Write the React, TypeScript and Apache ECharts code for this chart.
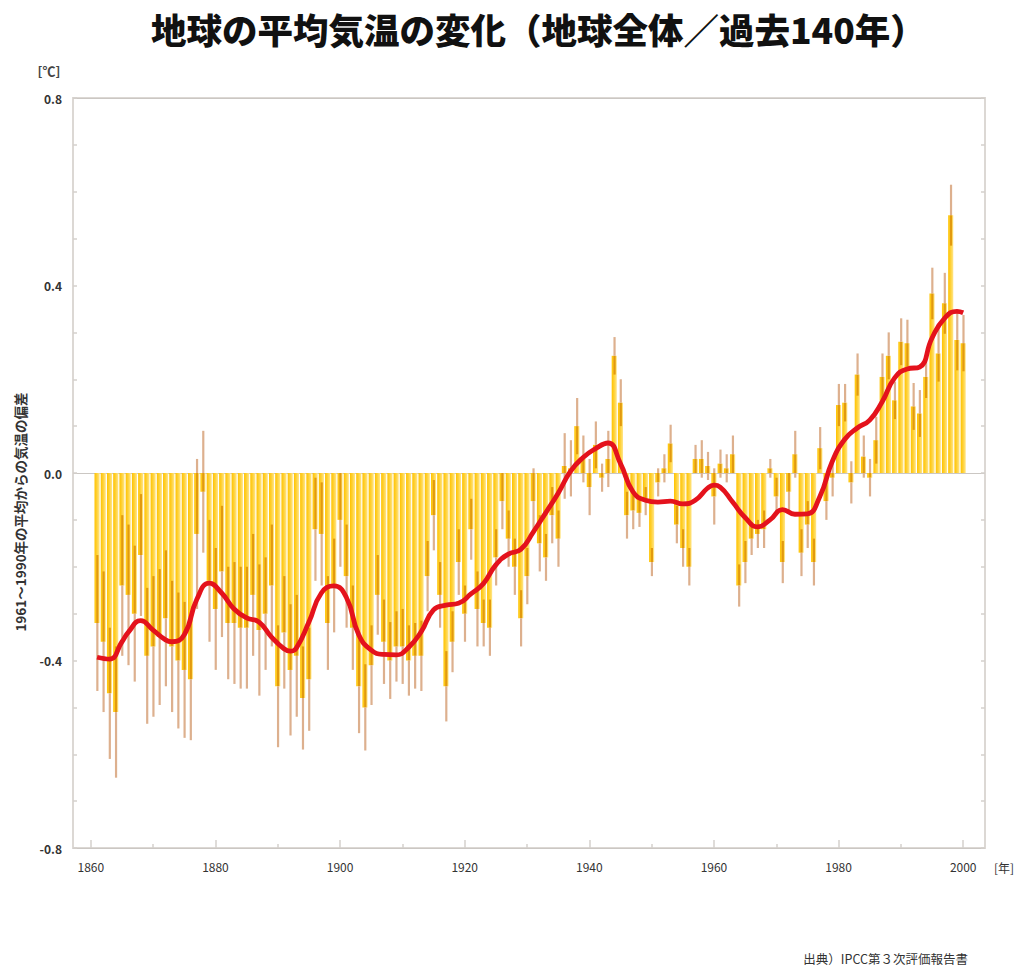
import React, { useEffect, useRef } from 'react';
import * as echarts from 'echarts';

const startYear = 1861;

// annual anomaly (°C, relative to 1961-1990), 1861..2000
const anomaly = [
  -0.32, -0.36, -0.47, -0.51, -0.24, -0.26, -0.30, -0.175, -0.39, -0.37,
  -0.35, -0.31, -0.37, -0.40, -0.42, -0.44, -0.13, -0.04, -0.23, -0.29,
  -0.21, -0.32, -0.32, -0.33, -0.33, -0.26, -0.335, -0.30, -0.24, -0.455,
  -0.34, -0.42, -0.39, -0.48, -0.44, -0.12, -0.13, -0.32, -0.24, -0.10,
  -0.22, -0.33, -0.455, -0.50, -0.41, -0.26, -0.36, -0.40, -0.37, -0.37,
  -0.40, -0.39, -0.39, -0.22, -0.09, -0.26, -0.455, -0.36, -0.19, -0.30,
  -0.12, -0.29, -0.32, -0.33, -0.18, -0.06, -0.14, -0.20, -0.31, -0.22,
  -0.06, -0.15, -0.18, -0.09, -0.14, 0.015, 0.01, 0.10, 0.03, -0.03,
  0.06, -0.01, 0.03, 0.25, 0.15, -0.09, -0.08, -0.085, -0.06, -0.19,
  -0.02, 0.01, 0.063, -0.11, -0.16, -0.20, 0.03, 0.03, 0.015, -0.05,
  0.02, 0.01, 0.04, -0.24, -0.19, -0.14, -0.13, -0.12, 0.01, -0.05,
  -0.19, -0.04, 0.04, -0.17, -0.11, -0.19, 0.053, -0.06, -0.01, 0.145,
  0.15, -0.02, 0.21, 0.035, -0.01, 0.07, 0.205, 0.25, 0.155, 0.28,
  0.277, 0.142, 0.127, 0.205, 0.383, 0.255, 0.362, 0.55, 0.284, 0.277,
];

// ± uncertainty (2 standard errors), 1861..2000
const uncertainty = [
  0.145, 0.15, 0.14, 0.14, 0.15, 0.15, 0.145, 0.13, 0.145, 0.15,
  0.145, 0.145, 0.14, 0.145, 0.145, 0.13, 0.16, 0.13, 0.13, 0.13,
  0.14, 0.12, 0.13, 0.13, 0.13, 0.13, 0.14, 0.12, 0.13, 0.13,
  0.12, 0.14, 0.13, 0.11, 0.11, 0.11, 0.11, 0.10, 0.10, 0.10,
  0.11, 0.09, 0.10, 0.092, 0.085, 0.085, 0.09, 0.082, 0.075, 0.08,
  0.075, 0.07, 0.075, 0.075, 0.075, 0.07, 0.075, 0.065, 0.07, 0.06,
  0.065, 0.08, 0.05, 0.06, 0.06, 0.06, 0.06, 0.06, 0.06, 0.06,
  0.07, 0.06, 0.05, 0.06, 0.06, 0.07, 0.06, 0.06, 0.05, 0.06,
  0.05, 0.03, 0.06, 0.04, 0.05, 0.05, 0.04, 0.03, 0.03, 0.03,
  0.03, 0.03, 0.04, 0.04, 0.04, 0.04, 0.03, 0.04, 0.03, 0.06,
  0.03, 0.03, 0.04, 0.045, 0.045, 0.035, 0.03, 0.04, 0.02, 0.04,
  0.045, 0.04, 0.05, 0.05, 0.05, 0.05, 0.045, 0.04, 0.04, 0.045,
  0.04, 0.045, 0.045, 0.045, 0.04, 0.05, 0.05, 0.05, 0.04, 0.05,
  0.05, 0.05, 0.05, 0.045, 0.055, 0.06, 0.065, 0.065, 0.065, 0.06,
];

// smoothed curve
const smoothYears = [
  1861, 1863, 1865, 1866, 1868, 1870, 1872, 1873, 1875, 1877, 1879, 1881, 1883, 1885,
  1887, 1889, 1891, 1892, 1893, 1895, 1897, 1899, 1901, 1903, 1905, 1907, 1909, 1911,
  1913, 1915, 1917, 1919, 1921, 1923, 1925, 1927, 1929, 1931, 1933, 1935, 1937, 1939,
  1941, 1943, 1945, 1947, 1949, 1951, 1953, 1955, 1957, 1959, 1960, 1961, 1963, 1965,
  1967, 1969, 1971, 1973, 1975, 1977, 1979, 1981, 1983, 1985, 1987, 1989, 1991, 1993,
  1995, 1997, 1999, 2000,
];
const smoothValues = [
  -0.393, -0.397, -0.36, -0.34, -0.315, -0.335, -0.356, -0.36, -0.345, -0.27, -0.235, -0.256, -0.29, -0.309,
  -0.318, -0.35, -0.375, -0.38, -0.373, -0.318, -0.256, -0.241, -0.265, -0.345, -0.378, -0.387, -0.388, -0.372,
  -0.339, -0.292, -0.282, -0.278, -0.258, -0.236, -0.196, -0.173, -0.163, -0.126, -0.085, -0.043, 0.004, 0.033,
  0.052, 0.064, 0.02, -0.04, -0.058, -0.062, -0.06, -0.066, -0.058, -0.032, -0.026, -0.03, -0.062, -0.095,
  -0.115, -0.1, -0.078, -0.088, -0.087, -0.05, 0.025, 0.072, 0.096, 0.113, 0.152, 0.203, 0.222, 0.226,
  0.288, 0.33, 0.345, 0.342,
];

const xTickLabels = [1860, 1880, 1900, 1920, 1940, 1960, 1980, 2000];
const xMinorTicks = [1870, 1890, 1910, 1930, 1950, 1970, 1990];

const FONT = "'Noto Sans CJK JP', 'Noto Sans', sans-serif";

export default function App() {
  const ref = useRef<HTMLDivElement>(null);

  useEffect(() => {
    document.body.style.margin = '0';
    if (!ref.current) return;
    const chart = echarts.init(ref.current, undefined, { renderer: 'svg' });

    const barData = anomaly.map((v, i) => [startYear + i, v, uncertainty[i]]);
    const lineData = smoothYears.map((y, i) => [y, smoothValues[i]]);

    const barFill = new echarts.graphic.LinearGradient(0, 0, 1, 0, [
      { offset: 0, color: '#FFC300' },
      { offset: 0.5, color: '#FFD23A' },
      { offset: 1, color: '#FFE68C' },
    ]);

    const renderItem = (params: any, api: any) => {
      const x = api.value(0);
      const v = api.value(1);
      const e = api.value(2);
      const w = api.size([1, 0])[0];
      const bw = w * 0.82;
      const p0 = api.coord([x, 0]);
      const p1 = api.coord([x, v]);
      const children: any[] = [];
      children.push({
        type: 'rect',
        shape: { x: p0[0] - bw / 2, y: Math.min(p0[1], p1[1]), width: bw, height: Math.abs(p1[1] - p0[1]) },
        style: { fill: barFill },
      });
      const barLo = Math.min(0, v);
      const barHi = Math.max(0, v);
      const eLo = v - e;
      const eHi = v + e;
      const seg = (a: number, b: number, color: string) => {
        if (b <= a) return;
        const pa = api.coord([x, a]);
        const pb = api.coord([x, b]);
        children.push({
          type: 'line',
          shape: { x1: pa[0] + 0.3, y1: pa[1], x2: pb[0] + 0.3, y2: pb[1] },
          style: { stroke: color, lineWidth: 2.2 },
        });
      };
      seg(Math.max(eLo, barLo), Math.min(eHi, barHi), '#E29A0E');
      seg(eLo, Math.min(eHi, barLo), '#DDB08E');
      seg(Math.max(eLo, barHi), eHi, '#DDB08E');
      return { type: 'group', children };
    };

    const yLabel = (val: number) => {
      const k = Math.round(val * 10);
      if (k % 4 !== 0) return '';
      return (k / 10).toFixed(1);
    };

    const option: any = {
      animation: false,
      backgroundColor: '#ffffff',
      title: {
        text: '地球の平均気温の変化（地球全体／過去140年）',
        left: 146,
        top: 6,
        textStyle: { fontFamily: FONT, fontSize: 35.5, fontWeight: 900, color: '#111' },
      },
      grid: {
        left: 73,
        right: 37,
        top: 98,
        bottom: 123,
        show: true,
        borderColor: '#dcd8d4',
        borderWidth: 2,
        backgroundColor: 'transparent',
      },
      xAxis: [
        {
          type: 'value',
          min: 1857.14,
          max: 2003.5,
          position: 'bottom',
          axisLine: { show: false, onZero: false },
          splitLine: { show: false },
          axisTick: {
            show: true,
            inside: true,
            length: 8,
            customValues: xTickLabels,
            lineStyle: { color: '#d4d0cc', width: 1.5 },
          },
          axisLabel: {
            customValues: xTickLabels,
            formatter: (v: number) => String(Math.round(v)),
            margin: 12,
            color: '#333',
            fontSize: 12,
            fontFamily: FONT,
          },
        },
        {
          type: 'value',
          min: 1857.14,
          max: 2003.5,
          position: 'bottom',
          axisLine: { show: false, onZero: false },
          splitLine: { show: false },
          axisTick: {
            show: true,
            inside: true,
            length: 4,
            customValues: xMinorTicks,
            lineStyle: { color: '#d4d0cc', width: 1.5 },
          },
          axisLabel: { show: false },
        },
      ],
      yAxis: [
        {
          type: 'value',
          min: -0.8,
          max: 0.8,
          interval: 0.1,
          axisLine: { show: false, onZero: false },
          splitLine: { show: false },
          axisTick: { show: true, inside: true, length: 4, lineStyle: { color: '#d4d0cc', width: 1.5 } },
          axisLabel: {
            formatter: yLabel,
            margin: 11,
            color: '#333',
            fontSize: 12,
            fontWeight: 'bold',
            fontFamily: FONT,
          },
        },
        {
          type: 'value',
          min: -0.8,
          max: 0.8,
          interval: 0.1,
          position: 'right',
          axisLine: { show: false, onZero: false },
          splitLine: { show: false },
          axisTick: { show: true, inside: true, length: 4, lineStyle: { color: '#d4d0cc', width: 1.5 } },
          axisLabel: { show: false },
        },
        {
          type: 'value',
          min: -0.8,
          max: 0.8,
          interval: 0.8,
          position: 'left',
          axisLine: { show: false, onZero: false },
          axisTick: { show: false },
          axisLabel: { show: false },
          splitLine: { show: true, lineStyle: { color: '#cbc7c3', width: 1 } },
        },
      ],
      series: [
        {
          type: 'custom',
          name: 'annual',
          renderItem,
          encode: { x: 0, y: 1 },
          data: barData,
          z: 2,
        },
        {
          type: 'line',
          name: 'smoothed',
          data: lineData,
          smooth: 0.5,
          symbol: 'none',
          lineStyle: { color: '#E4121C', width: 4.8 },
          z: 5,
        },
      ],
      graphic: [
        {
          type: 'text',
          x: 49,
          y: 70,
          style: {
            text: '[℃]',
            fontSize: 13,
            fontWeight: 'bold',
            fontFamily: FONT,
            fill: '#444',
            textAlign: 'center',
            textVerticalAlign: 'middle',
            align: 'center',
            verticalAlign: 'middle',
          },
        },
        {
          type: 'text',
          x: 1004,
          y: 867,
          style: {
            text: '[年]',
            fontSize: 12,
            fontFamily: FONT,
            fill: '#333',
            textAlign: 'center',
            textVerticalAlign: 'middle',
            align: 'center',
            verticalAlign: 'middle',
          },
        },
        {
          type: 'text',
          x: 20,
          y: 512,
          rotation: Math.PI / 2,
          style: {
            text: '1961～1990年の平均からの気温の偏差',
            fontSize: 13.5,
            fontWeight: 'bold',
            fontFamily: FONT,
            fill: '#333',
            textAlign: 'center',
            textVerticalAlign: 'middle',
            align: 'center',
            verticalAlign: 'middle',
          },
        },
        {
          type: 'text',
          x: 968,
          y: 958,
          style: {
            text: '出典）IPCC第３次評価報告書',
            fontSize: 12.5,
            fontFamily: FONT,
            fill: '#333',
            textAlign: 'right',
            textVerticalAlign: 'middle',
            align: 'right',
            verticalAlign: 'middle',
          },
        },
      ],
    };

    chart.setOption(option);
    return () => chart.dispose();
  }, []);

  return (
    <div
      ref={ref}
      style={{ position: 'fixed', left: 0, top: 0, width: 1022, height: 971, background: '#fff' }}
    />
  );
}
